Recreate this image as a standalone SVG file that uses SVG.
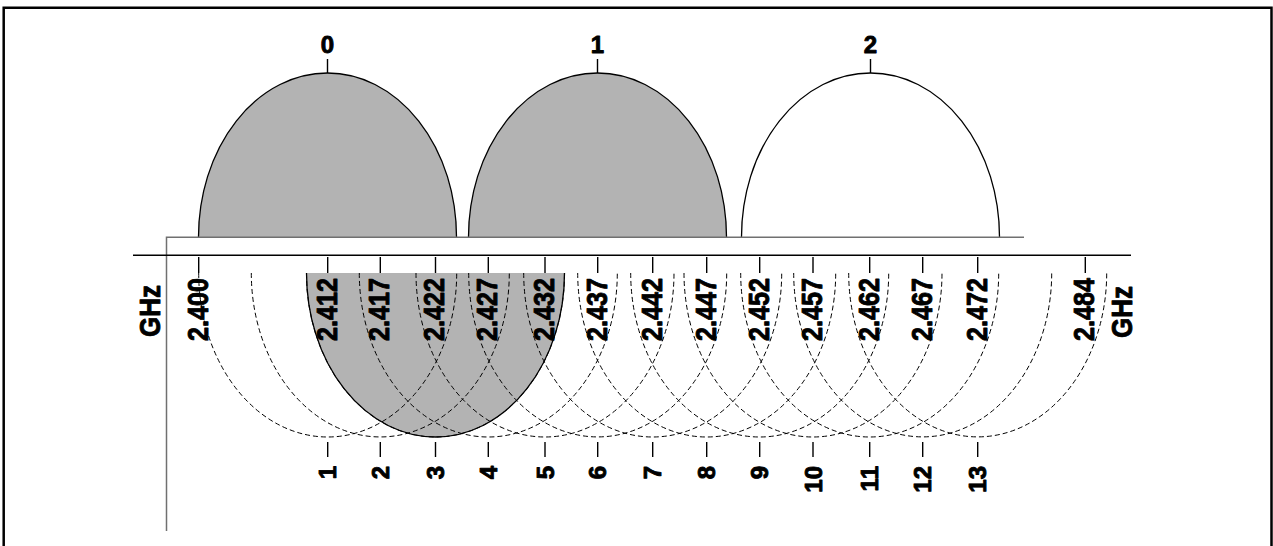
<svg xmlns="http://www.w3.org/2000/svg" width="1273" height="546" viewBox="0 0 1273 546">
<style>
.t{font-family:"Liberation Sans",Arial,sans-serif;font-weight:bold;fill:#000;stroke:#000;stroke-width:0.9;stroke-linejoin:round}
.f{font-size:29px}
.c{font-size:24px}
.g{font-size:30px}
.lobe{stroke:#000;stroke-width:1.3}
.dash{fill:none;stroke:#000;stroke-width:1;stroke-dasharray:5 3}
.tick{stroke:#000;stroke-width:1.4}
</style>
<rect width="1273" height="546" fill="#fff"/>
<path d="M3.7,546 V7.7 H1271.5 V546" fill="none" stroke="#000" stroke-width="2.5"/>

<g id="band3fill">
<path d="M306.5,273 A129,164 0 0 0 564.5,273 Z" fill="#b3b3b3" stroke="none"/>
<path d="M306.5,273 A129,164 0 0 0 564.5,273" fill="none" stroke="#000" stroke-width="1.3"/>
</g>

<g id="lobes">
<g id="lobe0"><path class="lobe" d="M198.5,237 A129,164 0 0 1 456.5,237" fill="#b3b3b3"/><line class="tick" x1="327.5" y1="59" x2="327.5" y2="73"/><text class="t c" x="327.5" y="52.5" text-anchor="middle">0</text></g>
<g id="lobe1"><path class="lobe" d="M468.5,237 A129,164 0 0 1 726.5,237" fill="#b3b3b3"/><line class="tick" x1="597.5" y1="59" x2="597.5" y2="73"/><text class="t c" x="597.5" y="52.5" text-anchor="middle">1</text></g>
<g id="lobe2"><path class="lobe" d="M741.5,237 A129,164 0 0 1 999.5,237" fill="#fff"/><line class="tick" x1="870.5" y1="59" x2="870.5" y2="73"/><text class="t c" x="870.5" y="52.5" text-anchor="middle">2</text></g>
</g>

<g id="axes">
<path d="M166.5,531 V237.3 H1024" fill="none" stroke="#707070" stroke-width="1.5"/>
<line x1="133" y1="255.3" x2="1131" y2="255.3" stroke="#000" stroke-width="1.5"/>
<text class="t g" transform="translate(160,311) rotate(-90)" text-anchor="middle" textLength="52" lengthAdjust="spacingAndGlyphs">GHz</text>
<text class="t g" transform="translate(1131.5,312) rotate(-90)" text-anchor="middle" textLength="52" lengthAdjust="spacingAndGlyphs">GHz</text>
</g>

<g id="connectors">
<path class="dash" d="M198.7,273 A129,164 0 0 0 456.7,273"/>
<path class="dash" d="M251.3,273 A129,164 0 0 0 509.3,273"/>
<path class="dash" d="M306.5,273 A129,164 0 0 0 564.5,273"/>
<path class="dash" d="M359.3,273 A129,164 0 0 0 617.3,273"/>
<path class="dash" d="M416,273 A129,164 0 0 0 674,273"/>
<path class="dash" d="M468.7,273 A129,164 0 0 0 726.7,273"/>
<path class="dash" d="M523.7,273 A129,164 0 0 0 781.7,273"/>
<path class="dash" d="M577.7,273 A129,164 0 0 0 835.7,273"/>
<path class="dash" d="M630.7,273 A129,164 0 0 0 888.7,273"/>
<path class="dash" d="M684,273 A129,164 0 0 0 942,273"/>
<path class="dash" d="M740.7,273 A129,164 0 0 0 998.7,273"/>
<path class="dash" d="M793.7,273 A129,164 0 0 0 1051.7,273"/>
<path class="dash" d="M848.7,273 A129,164 0 0 0 1106.7,273"/>
</g>

<g id="freq-ticks">
<g id="f2400"><line class="tick" x1="198.7" y1="257" x2="198.7" y2="273"/><text class="t f" transform="translate(207.5,341) rotate(-90)" textLength="63" lengthAdjust="spacingAndGlyphs">2.400</text></g>
<g id="f2412"><line class="tick" x1="327.7" y1="257" x2="327.7" y2="273"/><text class="t f" transform="translate(336.5,341) rotate(-90)" textLength="63" lengthAdjust="spacingAndGlyphs">2.412</text></g>
<g id="f2417"><line class="tick" x1="380.3" y1="257" x2="380.3" y2="273"/><text class="t f" transform="translate(389.1,341) rotate(-90)" textLength="63" lengthAdjust="spacingAndGlyphs">2.417</text></g>
<g id="f2422"><line class="tick" x1="435.5" y1="257" x2="435.5" y2="273"/><text class="t f" transform="translate(444.3,341) rotate(-90)" textLength="63" lengthAdjust="spacingAndGlyphs">2.422</text></g>
<g id="f2427"><line class="tick" x1="488.3" y1="257" x2="488.3" y2="273"/><text class="t f" transform="translate(497.1,341) rotate(-90)" textLength="63" lengthAdjust="spacingAndGlyphs">2.427</text></g>
<g id="f2432"><line class="tick" x1="545" y1="257" x2="545" y2="273"/><text class="t f" transform="translate(553.8,341) rotate(-90)" textLength="63" lengthAdjust="spacingAndGlyphs">2.432</text></g>
<g id="f2437"><line class="tick" x1="597.7" y1="257" x2="597.7" y2="273"/><text class="t f" transform="translate(606.5,341) rotate(-90)" textLength="63" lengthAdjust="spacingAndGlyphs">2.437</text></g>
<g id="f2442"><line class="tick" x1="652.7" y1="257" x2="652.7" y2="273"/><text class="t f" transform="translate(661.5,341) rotate(-90)" textLength="63" lengthAdjust="spacingAndGlyphs">2.442</text></g>
<g id="f2447"><line class="tick" x1="706.7" y1="257" x2="706.7" y2="273"/><text class="t f" transform="translate(715.5,341) rotate(-90)" textLength="63" lengthAdjust="spacingAndGlyphs">2.447</text></g>
<g id="f2452"><line class="tick" x1="759.7" y1="257" x2="759.7" y2="273"/><text class="t f" transform="translate(768.5,341) rotate(-90)" textLength="63" lengthAdjust="spacingAndGlyphs">2.452</text></g>
<g id="f2457"><line class="tick" x1="813" y1="257" x2="813" y2="273"/><text class="t f" transform="translate(821.8,341) rotate(-90)" textLength="63" lengthAdjust="spacingAndGlyphs">2.457</text></g>
<g id="f2462"><line class="tick" x1="869.7" y1="257" x2="869.7" y2="273"/><text class="t f" transform="translate(878.5,341) rotate(-90)" textLength="63" lengthAdjust="spacingAndGlyphs">2.462</text></g>
<g id="f2467"><line class="tick" x1="922.7" y1="257" x2="922.7" y2="273"/><text class="t f" transform="translate(931.5,341) rotate(-90)" textLength="63" lengthAdjust="spacingAndGlyphs">2.467</text></g>
<g id="f2472"><line class="tick" x1="977.7" y1="257" x2="977.7" y2="273"/><text class="t f" transform="translate(986.5,341) rotate(-90)" textLength="63" lengthAdjust="spacingAndGlyphs">2.472</text></g>
<g id="f2484"><line class="tick" x1="1085.3" y1="257" x2="1085.3" y2="273"/><text class="t f" transform="translate(1094.1,341) rotate(-90)" textLength="63" lengthAdjust="spacingAndGlyphs">2.484</text></g>
</g>

<g id="channels">
<g id="ch1"><line class="tick" x1="327.7" y1="442" x2="327.7" y2="457"/><text class="t c" transform="translate(336.2,466) rotate(-90)" text-anchor="end">1</text></g>
<g id="ch2"><line class="tick" x1="380.3" y1="442" x2="380.3" y2="457"/><text class="t c" transform="translate(388.8,466) rotate(-90)" text-anchor="end">2</text></g>
<g id="ch3"><line class="tick" x1="435.5" y1="442" x2="435.5" y2="457"/><text class="t c" transform="translate(444,466) rotate(-90)" text-anchor="end">3</text></g>
<g id="ch4"><line class="tick" x1="488.3" y1="442" x2="488.3" y2="457"/><text class="t c" transform="translate(496.8,466) rotate(-90)" text-anchor="end">4</text></g>
<g id="ch5"><line class="tick" x1="545" y1="442" x2="545" y2="457"/><text class="t c" transform="translate(553.5,466) rotate(-90)" text-anchor="end">5</text></g>
<g id="ch6"><line class="tick" x1="597.7" y1="442" x2="597.7" y2="457"/><text class="t c" transform="translate(606.2,466) rotate(-90)" text-anchor="end">6</text></g>
<g id="ch7"><line class="tick" x1="652.7" y1="442" x2="652.7" y2="457"/><text class="t c" transform="translate(661.2,466) rotate(-90)" text-anchor="end">7</text></g>
<g id="ch8"><line class="tick" x1="706.7" y1="442" x2="706.7" y2="457"/><text class="t c" transform="translate(715.2,466) rotate(-90)" text-anchor="end">8</text></g>
<g id="ch9"><line class="tick" x1="759.7" y1="442" x2="759.7" y2="457"/><text class="t c" transform="translate(768.2,466) rotate(-90)" text-anchor="end">9</text></g>
<g id="ch10"><line class="tick" x1="813" y1="442" x2="813" y2="457"/><text class="t c" transform="translate(821.5,466) rotate(-90)" text-anchor="end">10</text></g>
<g id="ch11"><line class="tick" x1="869.7" y1="442" x2="869.7" y2="457"/><text class="t c" transform="translate(878.2,466) rotate(-90)" text-anchor="end">11</text></g>
<g id="ch12"><line class="tick" x1="922.7" y1="442" x2="922.7" y2="457"/><text class="t c" transform="translate(931.2,466) rotate(-90)" text-anchor="end">12</text></g>
<g id="ch13"><line class="tick" x1="977.7" y1="442" x2="977.7" y2="457"/><text class="t c" transform="translate(986.2,466) rotate(-90)" text-anchor="end">13</text></g>
</g>
</svg>
